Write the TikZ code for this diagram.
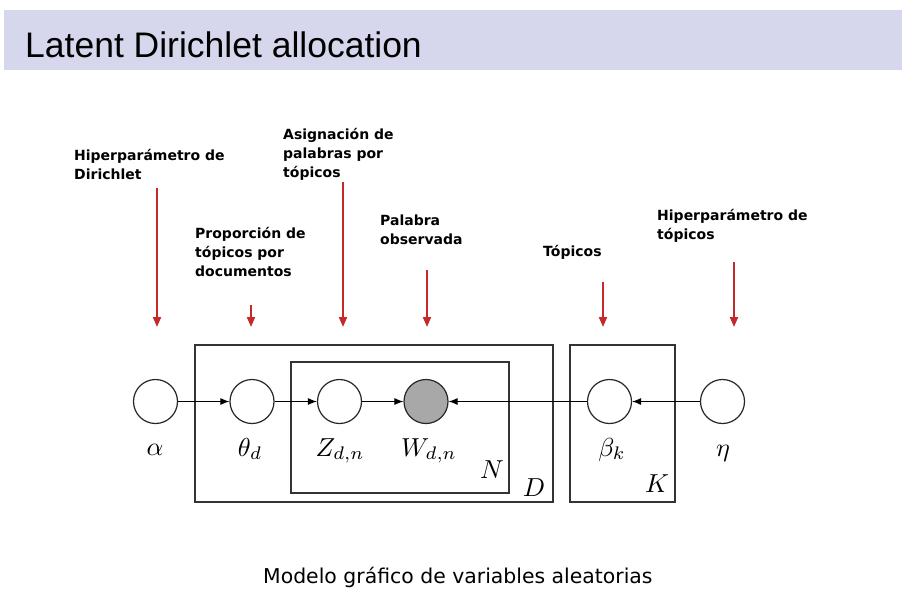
\documentclass[tikz,border=0pt]{standalone}
\usepackage{fontspec}
\newfontfamily\titlefont{Liberation Sans}
\newfontfamily\lblfont{DejaVu Sans}
\usetikzlibrary{arrows.meta}
\definecolor{band}{RGB}{214,214,236}
\definecolor{redarrow}{RGB}{196,42,42}
\definecolor{obsgray}{RGB}{168,168,168}
\definecolor{platec}{RGB}{51,51,51}
\newcommand{\mlbig}[1]{\scalebox{2.6}{$#1$}}
\begin{document}
\begin{tikzpicture}[x=1pt,y=-1pt,
  var/.style={circle,draw=black!85,line width=1.2pt,minimum size=44pt,inner sep=0pt,fill=white},
  obs/.style={var,fill=obsgray},
  plate/.style={draw=platec,line width=1.5pt},
  edge/.style={-{Latex[length=9pt,width=7pt]},line width=1pt},
  redarr/.style={draw=redarrow,line width=2pt,-{Triangle[length=10pt,width=8pt]}},
  lbl/.style={font=\lblfont\bfseries\fontsize{14}{19}\selectfont,align=left,anchor=base west,inner sep=0pt},
  mlab/.style={anchor=base,inner sep=0pt},
  ]
\useasboundingbox (0,0) rectangle (902,603);
\fill[white] (0,0) rectangle (902,603);
\fill[band] (4,10) rectangle (902,70);
\node[font=\titlefont\fontsize{35.5}{40}\selectfont,anchor=base west,inner sep=0pt] (title) at (25,57) {Latent Dirichlet allocation};

% plates
\draw[plate] (195,345) rectangle (553,502);
\draw[plate] (291,362) rectangle (509,493);
\draw[plate] (570,345) rectangle (675,502);
\node[mlab] (Nl) at (492,478) {\mlbig{N}};
\node[mlab] (Dl) at (534,496) {\mlbig{D}};
\node[mlab] (Kl) at (657,492) {\mlbig{K}};

% variables
\node[var] (alpha) at (155.5,401.5) {};
\node[var] (theta) at (252,401.5) {};
\node[var] (Z) at (339.5,401.5) {};
\node[obs] (W) at (426,401.5) {};
\node[var] (beta) at (609.5,401.5) {};
\node[var] (eta) at (722.5,401.5) {};

\node[mlab] (la) at (155,455) {\mlbig{\alpha}};
\node[mlab] (lt) at (250,456) {\mlbig{\theta_d}};
\node[mlab] (lz) at (340,456) {\mlbig{Z_{d,n}}};
\node[mlab] (lw) at (429,456) {\mlbig{W_{d,n}}};
\node[mlab] (lb) at (612,456) {\mlbig{\beta_k}};
\node[mlab] (le) at (723,456) {\mlbig{\eta}};

\draw[edge] (alpha) -- (theta);
\draw[edge] (theta) -- (Z);
\draw[edge] (Z) -- (W);
\draw[edge] (beta) -- (W);
\draw[edge] (eta) -- (beta);

% annotation labels (anchored at the baseline of the last line)
\node[lbl] (t1) at (74,179) {Hiperparámetro de\\Dirichlet};
\node[lbl] (t2) at (195,276) {Proporción de\\tópicos por\\documentos};
\node[lbl] (t3) at (283,177) {Asignación de\\palabras por\\tópicos};
\node[lbl] (t4) at (380,244) {Palabra\\observada};
\node[lbl] (t5) at (543,256) {Tópicos};
\node[lbl] (t6) at (657,239) {Hiperparámetro de\\tópicos};

% red arrows
\coordinate (r1s) at (157,188); \coordinate (r1e) at (157,327);
\coordinate (r2s) at (251,305); \coordinate (r2e) at (251,327);
\coordinate (r3s) at (343,182); \coordinate (r3e) at (343,327);
\coordinate (r4s) at (427,270); \coordinate (r4e) at (427,327);
\coordinate (r5s) at (603,282); \coordinate (r5e) at (603,327);
\coordinate (r6s) at (734,262); \coordinate (r6e) at (734,327);
\draw[redarr] (r1s) -- (r1e);
\draw[redarr] (r2s) -- (r2e);
\draw[redarr] (r3s) -- (r3e);
\draw[redarr] (r4s) -- (r4e);
\draw[redarr] (r5s) -- (r5e);
\draw[redarr] (r6s) -- (r6e);

\node[font=\lblfont\fontsize{20.4}{24}\selectfont,anchor=base west,inner sep=0pt] (cap) at (263,583) {Modelo gráfico de variables aleatorias};
\end{tikzpicture}
\end{document}
